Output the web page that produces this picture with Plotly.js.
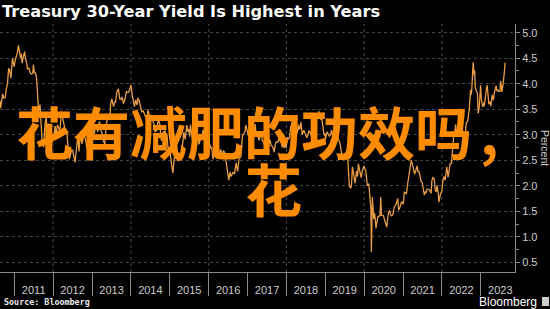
<!DOCTYPE html>
<html>
<head>
<meta charset="utf-8">
<script src="https://cdn.plot.ly/plotly-3.0.1.min.js"></script>
<style>
html,body{margin:0;padding:0;background:#000;}
#chart{width:550px;height:309px;}
</style>
</head>
<body>
<div id="chart"></div>
<script>
// ---- data (30-year Treasury yield, percent) ----
const dates = [
"2010-08-20","2010-08-24","2010-09-01","2010-09-14","2010-09-24","2010-10-08","2010-10-18","2010-10-29","2010-11-09","2010-11-17","2010-11-30","2010-12-08","2010-12-15","2010-12-23","2010-12-31",
"2011-01-07","2011-01-14","2011-01-25","2011-02-01","2011-02-09","2011-02-18","2011-02-28","2011-03-08","2011-03-16","2011-03-25","2011-04-08","2011-04-18","2011-04-29","2011-05-06","2011-05-18","2011-05-31","2011-06-10","2011-06-24","2011-06-30","2011-07-08","2011-07-19","2011-07-29","2011-08-08","2011-08-18","2011-08-31","2011-09-09","2011-09-22","2011-09-30","2011-10-03","2011-10-17","2011-10-27","2011-11-08","2011-11-22","2011-11-30","2011-12-07","2011-12-19","2011-12-30",
"2012-01-10","2012-01-20","2012-01-31","2012-02-09","2012-02-21","2012-02-29","2012-03-08","2012-03-19","2012-03-30","2012-04-10","2012-04-20","2012-04-30","2012-05-09","2012-05-18","2012-05-31","2012-06-01","2012-06-13","2012-06-22","2012-07-02","2012-07-13","2012-07-25","2012-08-06","2012-08-20","2012-08-31","2012-09-06","2012-09-14","2012-09-28","2012-10-09","2012-10-17","2012-10-31","2012-11-15","2012-11-30","2012-12-11","2012-12-21","2012-12-31",
"2013-01-10","2013-01-22","2013-01-31","2013-02-08","2013-02-25","2013-03-11","2013-03-22","2013-04-03","2013-04-18","2013-05-01","2013-05-14","2013-05-28","2013-06-07","2013-06-18","2013-06-24","2013-07-05","2013-07-22","2013-07-31","2013-08-09","2013-08-22","2013-09-05","2013-09-18","2013-09-30","2013-10-10","2013-10-23","2013-11-06","2013-11-20","2013-11-29","2013-12-10","2013-12-20","2013-12-31",
"2014-01-02","2014-01-14","2014-01-31","2014-02-03","2014-02-14","2014-02-28","2014-03-07","2014-03-19","2014-03-31","2014-04-11","2014-04-25","2014-05-09","2014-05-21","2014-05-29","2014-06-11","2014-06-24","2014-07-09","2014-07-23","2014-08-08","2014-08-15","2014-08-29","2014-09-16","2014-09-30","2014-10-06","2014-10-15","2014-10-31","2014-11-07","2014-11-19","2014-11-28","2014-12-05","2014-12-16","2014-12-31",
"2015-01-07","2015-01-16","2015-01-30","2015-02-06","2015-02-13","2015-02-24","2015-03-06","2015-03-19","2015-03-31","2015-04-10","2015-04-17","2015-04-30","2015-05-13","2015-05-26","2015-06-10","2015-06-19","2015-06-30","2015-07-07","2015-07-14","2015-07-31","2015-08-12","2015-08-24","2015-08-31","2015-09-14","2015-09-25","2015-10-02","2015-10-16","2015-10-30","2015-11-09","2015-11-20","2015-11-30","2015-12-14","2015-12-24","2015-12-31",
"2016-01-08","2016-01-20","2016-01-29","2016-02-11","2016-02-19","2016-02-29","2016-03-14","2016-03-24","2016-03-31","2016-04-07","2016-04-21","2016-04-29","2016-05-10","2016-05-19","2016-05-31","2016-06-08","2016-06-16","2016-06-27","2016-07-08","2016-07-20","2016-07-29","2016-08-10","2016-08-19","2016-08-31","2016-09-09","2016-09-15","2016-09-29","2016-10-14","2016-10-25","2016-10-31","2016-11-09","2016-11-15","2016-11-30","2016-12-07","2016-12-15","2016-12-30",
"2017-01-10","2017-01-18","2017-01-31","2017-02-07","2017-02-15","2017-02-28","2017-03-13","2017-03-22","2017-03-31","2017-04-07","2017-04-18","2017-04-28","2017-05-10","2017-05-18","2017-05-31","2017-06-14","2017-06-23","2017-06-30","2017-07-07","2017-07-19","2017-07-31","2017-08-09","2017-08-18","2017-08-31","2017-09-07","2017-09-20","2017-09-29","2017-10-10","2017-10-26","2017-10-31","2017-11-14","2017-11-22","2017-11-30","2017-12-12","2017-12-20","2017-12-29",
"2018-01-10","2018-01-19","2018-01-31","2018-02-08","2018-02-21","2018-02-28","2018-03-09","2018-03-21","2018-03-30","2018-04-10","2018-04-25","2018-04-30","2018-05-08","2018-05-17","2018-05-29","2018-06-13","2018-06-21","2018-06-29","2018-07-12","2018-07-25","2018-07-31","2018-08-09","2018-08-21","2018-08-31","2018-09-12","2018-09-21","2018-09-28","2018-10-05","2018-10-16","2018-10-31","2018-11-02","2018-11-20","2018-11-30","2018-12-10","2018-12-20","2018-12-31",
"2019-01-03","2019-01-18","2019-01-31","2019-02-08","2019-02-21","2019-02-28","2019-03-08","2019-03-21","2019-03-27","2019-04-05","2019-04-17","2019-04-30","2019-05-13","2019-05-23","2019-05-31","2019-06-07","2019-06-20","2019-06-28","2019-07-12","2019-07-25","2019-07-31","2019-08-07","2019-08-15","2019-08-28","2019-09-04","2019-09-13","2019-09-30","2019-10-08","2019-10-21","2019-10-31","2019-11-08","2019-11-20","2019-11-29","2019-12-03","2019-12-17","2019-12-31",
"2020-01-08","2020-01-17","2020-01-31","2020-02-07","2020-02-14","2020-02-28","2020-03-04","2020-03-09","2020-03-13","2020-03-18","2020-03-31","2020-04-09","2020-04-21","2020-04-30","2020-05-08","2020-05-20","2020-05-29","2020-06-05","2020-06-11","2020-06-30","2020-07-10","2020-07-24","2020-07-31","2020-08-14","2020-08-26","2020-08-31","2020-09-11","2020-09-23","2020-09-30","2020-10-09","2020-10-23","2020-10-30","2020-11-11","2020-11-20","2020-11-30","2020-12-09","2020-12-18","2020-12-31",
"2021-01-04","2021-01-12","2021-01-22","2021-02-01","2021-02-12","2021-02-25","2021-03-05","2021-03-18","2021-03-31","2021-04-09","2021-04-19","2021-04-30","2021-05-12","2021-05-20","2021-05-28","2021-06-08","2021-06-17","2021-06-30","2021-07-08","2021-07-19","2021-07-30","2021-08-03","2021-08-13","2021-08-31","2021-09-08","2021-09-21","2021-09-28","2021-10-08","2021-10-21","2021-10-29","2021-11-09","2021-11-16","2021-11-30","2021-12-03","2021-12-17","2021-12-31",
"2022-01-10","2022-01-18","2022-01-31","2022-02-10","2022-02-15","2022-02-28","2022-03-07","2022-03-18","2022-03-31","2022-04-11","2022-04-20","2022-04-29","2022-05-09","2022-05-19","2022-05-26","2022-06-07","2022-06-14","2022-06-30","2022-07-08","2022-07-21","2022-07-29","2022-08-01","2022-08-17","2022-08-31","2022-09-13","2022-09-27","2022-09-30","2022-10-07","2022-10-21","2022-10-31","2022-11-04","2022-11-10","2022-11-30","2022-12-07","2022-12-16","2022-12-30",
"2023-01-06","2023-01-18","2023-01-31","2023-02-02","2023-02-15","2023-02-24","2023-03-02","2023-03-17","2023-03-31","2023-04-05","2023-04-18","2023-04-28","2023-05-10","2023-05-25","2023-05-31","2023-06-09","2023-06-15","2023-06-30","2023-07-06","2023-07-18","2023-07-31","2023-08-03","2023-08-10","2023-08-17"
];
const yields = [
3.67,3.52,3.60,3.80,3.72,3.73,3.90,3.99,4.30,4.28,4.11,4.45,4.50,4.42,4.33,
4.43,4.49,4.56,4.63,4.75,4.63,4.51,4.59,4.40,4.51,4.63,4.47,4.39,4.28,4.31,4.21,4.19,4.20,4.37,4.22,4.21,4.12,3.70,3.45,3.59,3.32,2.79,2.90,2.75,3.21,3.35,3.06,2.93,3.05,3.01,2.85,2.89,
2.96,3.17,2.94,3.19,3.15,3.09,3.14,3.46,3.34,3.17,3.12,3.11,3.06,2.80,2.64,2.52,2.66,2.70,2.70,2.58,2.46,2.70,2.97,2.67,2.80,3.07,2.82,2.93,3.00,2.91,2.72,2.81,2.85,2.93,2.95,
3.09,3.01,3.17,3.16,3.06,3.26,3.11,3.04,2.87,2.82,3.19,3.36,3.35,3.30,3.60,3.70,3.55,3.64,3.64,3.84,3.90,3.70,3.69,3.74,3.61,3.70,3.85,3.83,3.83,3.89,3.96,
3.97,3.77,3.60,3.55,3.68,3.58,3.72,3.67,3.56,3.45,3.47,3.39,3.33,3.30,3.49,3.37,3.38,3.29,3.19,3.06,3.08,3.30,3.20,3.05,2.88,3.06,3.04,3.08,2.89,3.02,2.72,2.75,
2.52,2.44,2.25,2.52,2.55,2.57,2.84,2.48,2.54,2.56,2.50,2.75,3.05,2.91,3.19,3.06,3.11,2.96,3.20,2.92,2.80,2.80,2.96,2.96,2.96,2.81,2.91,2.92,3.09,3.00,2.98,2.92,3.00,3.01,
2.84,2.74,2.75,2.52,2.62,2.61,2.73,2.68,2.61,2.55,2.71,2.68,2.57,2.69,2.65,2.54,2.42,2.27,2.11,2.27,2.18,2.23,2.27,2.23,2.39,2.45,2.28,2.55,2.55,2.58,2.88,2.98,3.03,3.06,3.19,3.07,
2.97,3.06,3.06,2.97,3.09,3.00,3.21,2.99,3.02,2.99,2.89,2.96,3.06,2.89,2.86,2.77,2.71,2.84,2.93,2.83,2.90,2.79,2.78,2.73,2.66,2.83,2.86,2.85,2.95,2.88,2.84,2.75,2.83,2.74,2.87,2.74,
2.95,2.91,2.95,3.14,3.22,3.13,3.17,3.10,2.97,3.03,3.20,3.11,3.12,3.25,3.00,3.09,3.04,2.98,2.94,3.02,3.08,3.06,2.99,3.02,3.07,3.19,3.21,3.40,3.32,3.39,3.46,3.30,3.30,3.15,2.99,3.02,
2.92,3.06,3.00,2.97,3.01,3.09,3.00,2.97,2.82,2.92,3.01,2.93,2.87,2.78,2.58,2.58,2.54,2.53,2.64,2.62,2.53,2.22,2.00,1.95,2.01,2.37,2.11,2.05,2.29,2.18,2.43,2.26,2.21,2.16,2.31,2.39,
2.33,2.29,2.00,2.03,2.04,1.68,1.55,0.70,1.54,1.78,1.35,1.46,1.17,1.28,1.39,1.41,1.41,1.78,1.42,1.41,1.33,1.23,1.19,1.45,1.52,1.47,1.41,1.42,1.46,1.58,1.65,1.65,1.75,1.52,1.57,1.62,1.69,1.65,
1.66,1.88,1.85,1.84,2.03,2.24,2.28,2.50,2.41,2.34,2.23,2.30,2.39,2.27,2.29,2.20,2.09,2.06,1.95,1.82,1.89,1.85,1.93,1.93,1.91,1.85,2.10,2.16,2.13,1.93,1.88,2.01,1.79,1.68,1.83,1.90,
2.10,2.18,2.11,2.33,2.37,2.17,2.26,2.43,2.44,2.78,2.95,3.00,3.20,2.99,2.96,3.09,3.49,3.14,3.14,3.01,3.00,2.85,3.23,3.27,3.47,3.88,3.78,3.85,4.42,4.16,4.26,3.92,3.80,3.42,3.52,3.97,
3.69,3.55,3.63,3.56,3.86,3.92,3.97,3.60,3.65,3.56,3.78,3.68,3.84,3.96,3.86,3.89,3.85,3.85,4.05,3.84,4.02,4.20,4.23,4.41
];
const yTicks = [0.5,1.0,1.5,2.0,2.5,3.0,3.5,4.0,4.5,5.0];
const gridYears = ["2012","2014","2016","2018","2020","2022"];
const overlayLine1 = "花有减肥的功效吗";
const overlayComma = ",";
const overlayLine2 = "花";

// ---- layout helpers (plot area in px) ----
const W = 550, H = 309;
const M = {l: 0, r: 35, t: 24, b: 37};
const PW = W - M.l - M.r, PH = H - M.t - M.b;
const px = x => (x - M.l) / PW;
const py = y => (H - M.b - y) / PH;

const shapes = gridYears.map(y => ({
  type: 'line', xref: 'x', yref: 'paper',
  x0: y + '-01-01', x1: y + '-01-01', y0: 0, y1: 1,
  line: {color: '#4a4a4a', width: 1, dash: 'dot'}, layer: 'below'
}));
shapes.push({type:'rect', xref:'paper', yref:'paper',
  x0: px(542), x1: px(549), y0: py(306), y1: py(297),
  fillcolor:'#cfcfcf', line:{width:0}});

const trace = {
  x: dates, y: yields, type: 'scatter', mode: 'lines',
  line: {color: '#e89c45', width: 1.3}, hoverinfo: 'skip'
};

const bigFont = {family:'Noto Sans CJK SC, sans-serif', size:57, color:'#ff8c00', weight:700};

const layout = {
  width: W, height: H,
  margin: M,
  paper_bgcolor: '#000', plot_bgcolor: '#000',
  showlegend: false,
  title: {
    text: '<b>Treasury 30-Year Yield Is Highest in Years</b>',
    font: {family: 'DejaVu Sans, sans-serif', size: 16.2, color: '#ffffff'},
    xref: 'container', yref: 'container', x: 2/W, xanchor: 'left', y: 1 - 11.5/H, yanchor: 'middle'
  },
  xaxis: {
    type: 'date', range: ['2010-08-20', '2023-11-18'],
    showgrid: false, zeroline: false,
    showline: true, linecolor: '#8a8a8a', linewidth: 1,
    ticks: 'outside', ticklen: 23, tickcolor: '#8a8a8a', tickwidth: 1,
    tickmode: 'linear', tick0: '2011-01-01', dtick: 'M12', tickformat: '%Y',
    ticklabelmode: 'period',
    ticklabelstandoff: -15,
    tickfont: {family: 'Liberation Sans, Arial, sans-serif', size: 11, color: '#cccccc'}
  },
  yaxis: {
    side: 'right', range: [0.31, 5.17],
    tickvals: yTicks, tickformat: '.1f',
    showgrid: true, gridcolor: '#444444', griddash: 'dot', gridwidth: 1,
    zeroline: false, showline: true, linecolor: '#8a8a8a', linewidth: 1,
    ticks: 'outside', ticklen: 4, tickcolor: '#8a8a8a',
    minor: {dtick: 0.25, tick0: 0, ticks: 'outside', ticklen: 3, tickcolor: '#8a8a8a', showgrid: false},
    tickfont: {family: 'Liberation Sans, Arial, sans-serif', size: 11, color: '#cccccc'}
  },
  shapes: shapes,
  annotations: [
    {xref:'paper', yref:'paper', x: px(545), y: py(148), text: 'Percent', textangle: 90,
     showarrow:false, xanchor:'center', yanchor:'middle', borderpad: 0,
     font:{family:'Liberation Sans, Arial, sans-serif', size:10.5, color:'#cccccc'}},
    {xref:'paper', yref:'paper', x: px(2), y: py(302), text: '<b>Source: Bloomberg</b>',
     showarrow:false, xanchor:'left', yanchor:'middle',
     font:{family:'DejaVu Sans Mono, monospace', size:8.4, color:'#e8e8e8'}},
    {xref:'paper', yref:'paper', x: px(539), y: py(302), text: 'Bloomberg',
     showarrow:false, xanchor:'right', yanchor:'middle',
     font:{family:'Liberation Sans, Arial, sans-serif', size:12, color:'#ffffff'}},
    {xref:'paper', yref:'paper', x: px(15), y: py(130), text: overlayLine1,
     showarrow:false, xanchor:'left', yanchor:'middle', borderpad: 0, font: bigFont},
    {xref:'paper', yref:'paper', x: px(489), y: py(130), text: overlayComma,
     showarrow:false, xanchor:'center', yanchor:'middle', borderpad: 0, font: bigFont},
    {xref:'paper', yref:'paper', x: px(273), y: py(187), text: overlayLine2,
     showarrow:false, xanchor:'center', yanchor:'middle', borderpad: 0, font: bigFont}
  ]
};

Plotly.newPlot('chart', [trace], layout, {staticPlot: true, displayModeBar: false});
</script>
</body>
</html>
